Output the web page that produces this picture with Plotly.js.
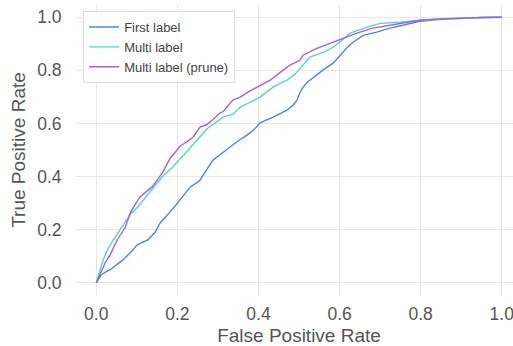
<!DOCTYPE html>
<html>
<head>
<meta charset="utf-8">
<script src="https://cdn.plot.ly/plotly-3.0.1.min.js"></script>
<style>html,body{margin:0;padding:0;overflow:hidden;background:#fff;}</style>
</head>
<body>
<div id="chart"></div>
<script>
const seriesNames = ["First label", "Multi label", "Multi label (prune)"];
const seriesColors = ["#4a86e8", "#4fd6cf", "#a55de6"];

const firstFpr = [0, 0.012, 0.034, 0.050, 0.066, 0.085, 0.101, 0.128, 0.145, 0.158, 0.170, 0.182, 0.195, 0.207, 0.220, 0.232, 0.251, 0.256, 0.272, 0.288, 0.310, 0.330, 0.350, 0.372, 0.390, 0.404, 0.420, 0.436, 0.455, 0.470, 0.485, 0.495, 0.502, 0.510, 0.522, 0.527, 0.545, 0.559, 0.584, 0.608, 0.620, 0.633, 0.658, 0.692, 0.724, 0.756, 0.798, 0.850, 0.897, 0.950, 1.0];
const firstTpr = [0, 0.030, 0.049, 0.066, 0.086, 0.115, 0.143, 0.162, 0.190, 0.226, 0.245, 0.267, 0.290, 0.312, 0.338, 0.361, 0.380, 0.387, 0.425, 0.462, 0.488, 0.511, 0.535, 0.556, 0.578, 0.602, 0.612, 0.624, 0.638, 0.650, 0.668, 0.688, 0.715, 0.737, 0.757, 0.763, 0.785, 0.801, 0.827, 0.868, 0.888, 0.906, 0.932, 0.944, 0.959, 0.970, 0.985, 0.992, 0.996, 0.999, 1.0];

const multiFpr = [0, 0.008, 0.017, 0.030, 0.047, 0.066, 0.084, 0.103, 0.121, 0.145, 0.165, 0.190, 0.207, 0.232, 0.255, 0.273, 0.293, 0.313, 0.337, 0.355, 0.380, 0.404, 0.420, 0.436, 0.455, 0.470, 0.490, 0.502, 0.527, 0.559, 0.584, 0.606, 0.626, 0.667, 0.700, 0.749, 0.798, 0.850, 0.900, 0.950, 1.0];
const multiTpr = [0, 0.045, 0.086, 0.132, 0.173, 0.218, 0.258, 0.286, 0.320, 0.361, 0.403, 0.438, 0.466, 0.511, 0.548, 0.580, 0.602, 0.624, 0.634, 0.662, 0.680, 0.699, 0.718, 0.737, 0.752, 0.763, 0.785, 0.805, 0.850, 0.868, 0.887, 0.914, 0.940, 0.962, 0.977, 0.981, 0.989, 0.994, 0.997, 0.999, 1.0];

const pruneFpr = [0, 0.010, 0.022, 0.034, 0.052, 0.071, 0.084, 0.096, 0.108, 0.125, 0.138, 0.152, 0.163, 0.182, 0.195, 0.207, 0.223, 0.239, 0.256, 0.273, 0.290, 0.305, 0.313, 0.337, 0.355, 0.376, 0.397, 0.429, 0.461, 0.478, 0.502, 0.510, 0.544, 0.576, 0.608, 0.643, 0.682, 0.724, 0.766, 0.798, 0.850, 0.900, 0.950, 1.0];
const pruneTpr = [0, 0.035, 0.075, 0.105, 0.162, 0.207, 0.263, 0.295, 0.323, 0.345, 0.361, 0.390, 0.414, 0.468, 0.492, 0.515, 0.530, 0.549, 0.586, 0.596, 0.618, 0.639, 0.645, 0.688, 0.699, 0.720, 0.737, 0.763, 0.801, 0.820, 0.838, 0.857, 0.883, 0.902, 0.921, 0.940, 0.959, 0.970, 0.981, 0.989, 0.994, 0.997, 0.999, 1.0];

const xTickVals = [0, 0.2, 0.4, 0.6, 0.8, 1.0];
const xTickText = ["0.0", "0.2", "0.4", "0.6", "0.8", "1.0"];
const yTickVals = [0, 0.2, 0.4, 0.6, 0.8, 1.0];
const yTickText = ["0.0", "0.2", "0.4", "0.6", "0.8", "1.0"];

const xs = [firstFpr, multiFpr, pruneFpr];
const ys = [firstTpr, multiTpr, pruneTpr];

const traces = seriesNames.map((n, i) => ({
  type: "scatter", mode: "lines", name: n,
  x: xs[i], y: ys[i],
  line: {color: seriesColors[i], width: 1.4}
}));

const gridColor = "#ebe7e7";
const font = {family: "Liberation Sans, Arial, sans-serif", color: "#555555"};

const layout = {
  width: 540, height: 346,
  margin: {l: 76, r: 18, t: 4, b: 50},
  paper_bgcolor: "#ffffff", plot_bgcolor: "#ffffff",
  font: font,
  showlegend: true,
  legend: {
    x: 0.016, y: 0.976, xanchor: "left", yanchor: "top",
    bgcolor: "rgba(255,255,255,0.85)", bordercolor: "#dddddd", borderwidth: 1,
    font: {family: font.family, size: 13, color: "#444444"},
    tracegroupgap: 0
  },
  xaxis: {
    range: [-0.05, 1.05], tickvals: xTickVals, ticktext: xTickText,
    showgrid: true, gridcolor: gridColor, gridwidth: 1.3,
    zeroline: false, showline: false,
    ticks: "outside", ticklen: 2, tickcolor: "rgba(0,0,0,0)",
    tickfont: {size: 17.5, color: "#555555"},
    title: {text: "False Positive Rate", font: {size: 19, color: "#555555"}, standoff: 8},
    automargin: false
  },
  yaxis: {
    range: [-0.05, 1.05], tickvals: yTickVals, ticktext: yTickText,
    showgrid: true, gridcolor: gridColor, gridwidth: 1.3,
    zeroline: false, showline: false,
    ticks: "outside", ticklen: 10, tickcolor: "rgba(0,0,0,0)",
    tickfont: {size: 17.5, color: "#555555"},
    title: {text: "True Positive Rate", font: {size: 19, color: "#555555"}, standoff: 6},
    automargin: false
  }
};

Plotly.newPlot("chart", traces, layout, {displayModeBar: false, staticPlot: true});
</script>
</body>
</html>
